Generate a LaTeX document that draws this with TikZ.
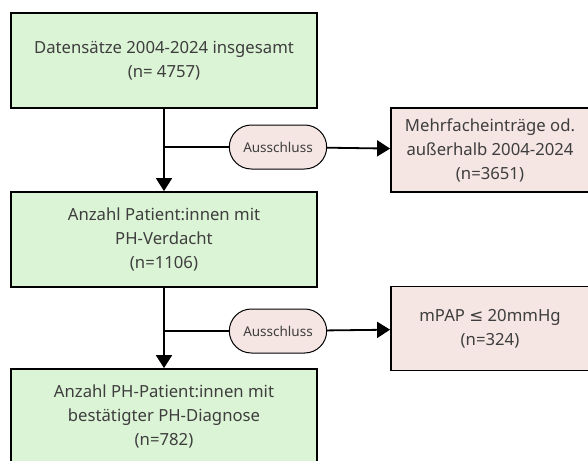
\documentclass[tikz,border=0pt]{standalone}
\usepackage{fontspec}
\setmainfont{Noto Sans}
\newfontfamily\symfont{DejaVu Sans}
\usetikzlibrary{arrows.meta,positioning,shapes.misc}
\definecolor{boxgreen}{HTML}{DCF4D6}
\definecolor{boxpink}{HTML}{F5E6E4}
\definecolor{txtgray}{HTML}{3E3E3E}
\tikzset{%
	process/.style  = {draw, line width=1.8pt, rectangle, fill=boxgreen, minimum width=306pt, minimum height=95pt, text centered, align=center, text=txtgray, font=\fontsize{16.7}{24}\selectfont},
	excluded/.style = {draw, line width=1.8pt, rectangle, fill=boxpink, minimum width=198pt, minimum height=84pt, text centered, align=center, text=txtgray, font=\fontsize{16.7}{24}\selectfont},
	stadium/.style  = {draw, line width=1pt, rounded rectangle, fill=boxpink, minimum width=104pt, minimum height=44pt, text centered, text=txtgray, font=\fontsize{13.5}{16}\selectfont},
	line/.style     = {line width=1.8pt},
	arrow/.style    = {line width=1.8pt, -{Triangle[length=13pt,width=16pt]}},
}
\begin{document}
\begin{tikzpicture}[x=1pt,y=-1pt]
	\clip (0,0) rectangle (588,460);
	\fill[white] (0,0) rectangle (588,460);
	% main column
	\node[process] (total) at (164,60.5) {Datensätze 2004-2024 insgesamt\\(n= 4757)};
	\node[process] (suspect) at (164,239.5) {Anzahl Patient:innen mit\\PH-Verdacht\\(n=1106)};
	\node[process] (confirmed) at (164,416.5) {Anzahl PH-Patient:innen mit\\bestätigter PH-Diagnose\\(n=782)};
	% exclusions
	\node[stadium] (excl1) at (278,147) {Ausschluss};
	\node[stadium] (excl2) at (278,331) {Ausschluss};
	\node[excluded] (multi) at (490,150) {Mehrfacheinträge od.\\außerhalb 2004-2024\\(n=3651)};
	\node[excluded] (mpap) at (490,328.5) {mPAP {\symfont ≤} 20mmHg\\(n=324)};
	\coordinate (split1) at (164,147);
	\coordinate (split2) at (164,331);
	% connectors
	\draw[arrow] (total) -- (suspect);
	\draw[arrow] (suspect) -- (confirmed);
	\draw[line] (split1) -- (excl1);
	\draw[line] (split2) -- (excl2);
	\draw[arrow] (excl1) -- (multi);
	\draw[arrow] (excl2) -- (mpap);
\end{tikzpicture}
\end{document}
